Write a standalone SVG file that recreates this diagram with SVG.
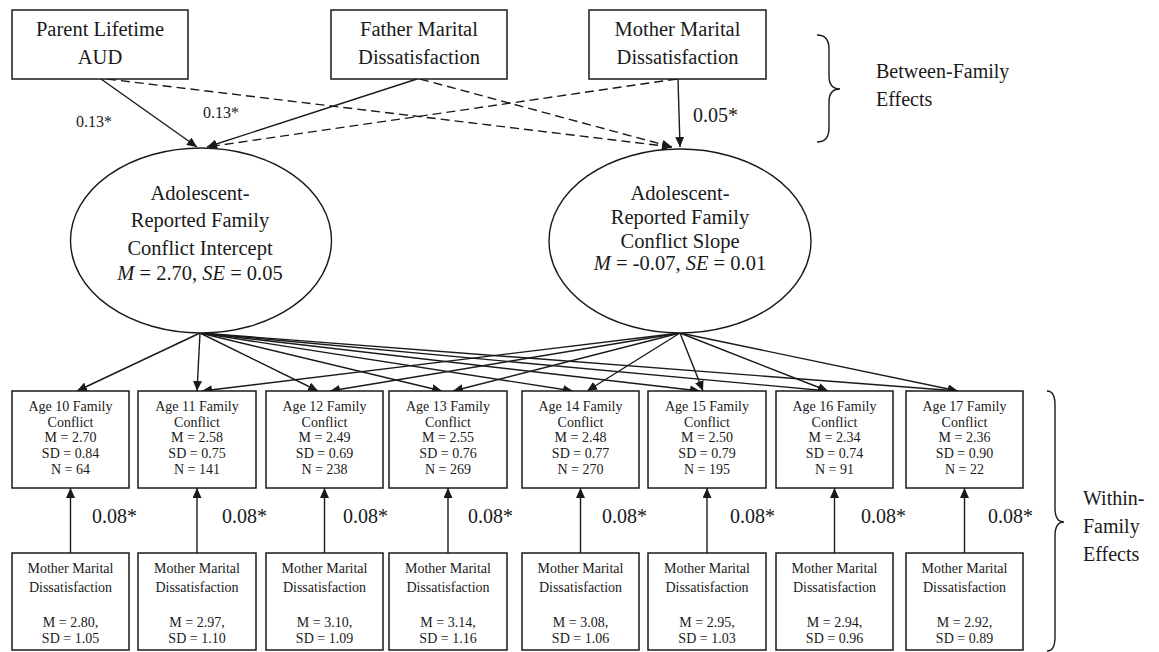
<svg xmlns="http://www.w3.org/2000/svg" width="1159" height="652" viewBox="0 0 1159 652">
<style>
text{font-family:"Liberation Serif","Times New Roman",serif;fill:#1a1a1a;text-anchor:middle}
.big{font-size:20.5px}
.sm{font-size:14px}
.lbl{font-size:20px;text-anchor:start}
.lbs{font-size:16px;text-anchor:start}
.side{font-size:20px;text-anchor:start}
.box{fill:#fff;stroke:#1a1a1a;stroke-width:1.5}
.el{fill:#fff;stroke:#1a1a1a;stroke-width:1.4}
.ln{fill:none;stroke:#1a1a1a;stroke-width:1.4;marker-end:url(#ah)}
.ds{fill:none;stroke:#1a1a1a;stroke-width:1.4;stroke-dasharray:9,5;marker-end:url(#ah)}
.br{fill:none;stroke:#1a1a1a;stroke-width:1.4}
</style>
<defs>
<marker id="ah" viewBox="0 0 10 9" refX="10" refY="4.5" markerWidth="10" markerHeight="9" markerUnits="userSpaceOnUse" orient="auto">
<path d="M0,0 L10,4.5 L0,9 z" fill="#1a1a1a" stroke="none"/>
</marker>
</defs>
<rect width="1159" height="652" fill="#fff"/>

<g id="connectors">
<line class="ln" x1="101" y1="79" x2="197" y2="147"/>
<line class="ds" x1="107" y1="79" x2="672" y2="147"/>
<line class="ln" x1="417" y1="79" x2="207" y2="147"/>
<line class="ds" x1="420" y1="79" x2="672" y2="147"/>
<line class="ds" x1="677" y1="79" x2="207" y2="147"/>
<line class="ln" x1="678" y1="79" x2="680" y2="147"/>

<line class="ln" x1="200" y1="333" x2="77" y2="391"/>
<line class="ln" x1="200" y1="333" x2="197" y2="391"/>
<line class="ln" x1="200" y1="333" x2="318" y2="391"/>
<line class="ln" x1="200" y1="333" x2="442" y2="391"/>
<line class="ln" x1="200" y1="333" x2="573" y2="391"/>
<line class="ln" x1="200" y1="333" x2="700" y2="391"/>
<line class="ln" x1="200" y1="333" x2="828" y2="391"/>
<line class="ln" x1="200" y1="333" x2="958" y2="391"/>

<line class="ln" x1="680" y1="333" x2="202" y2="391"/>
<line class="ln" x1="680" y1="333" x2="330" y2="391"/>
<line class="ln" x1="680" y1="333" x2="453" y2="391"/>
<line class="ln" x1="680" y1="333" x2="587" y2="391"/>
<line class="ln" x1="680" y1="333" x2="703" y2="391"/>
<line class="ln" x1="680" y1="333" x2="828" y2="391"/>
<line class="ln" x1="680" y1="333" x2="958" y2="391"/>

<line class="ln" x1="70.5" y1="553" x2="70.5" y2="488"/>
<line class="ln" x1="197" y1="553" x2="197" y2="488"/>
<line class="ln" x1="324.5" y1="553" x2="324.5" y2="488"/>
<line class="ln" x1="448" y1="553" x2="448" y2="488"/>
<line class="ln" x1="580.5" y1="553" x2="580.5" y2="488"/>
<line class="ln" x1="707" y1="553" x2="707" y2="488"/>
<line class="ln" x1="834.5" y1="553" x2="834.5" y2="488"/>
<line class="ln" x1="964.5" y1="553" x2="964.5" y2="488"/>

<text class="lbs" x="76" y="127">0.13*</text>
<text class="lbs" x="203" y="118">0.13*</text>
<text class="lbl" x="693" y="122">0.05*</text>
<text class="lbl" x="92" y="523">0.08*</text>
<text class="lbl" x="222" y="523">0.08*</text>
<text class="lbl" x="343" y="523">0.08*</text>
<text class="lbl" x="468" y="523">0.08*</text>
<text class="lbl" x="602" y="523">0.08*</text>
<text class="lbl" x="730" y="523">0.08*</text>
<text class="lbl" x="861" y="523">0.08*</text>
<text class="lbl" x="988" y="523">0.08*</text>
</g>

<g id="parent-aud"><rect class="box" x="12" y="10" width="176" height="69"/>
<text class="big" x="100" y="36">Parent Lifetime</text><text class="big" x="100" y="64">AUD</text></g>
<g id="father-md"><rect class="box" x="331" y="10" width="176" height="69"/>
<text class="big" x="419" y="36">Father Marital</text><text class="big" x="419" y="64">Dissatisfaction</text></g>
<g id="mother-md"><rect class="box" x="589" y="10" width="177" height="69"/>
<text class="big" x="677.5" y="36">Mother Marital</text><text class="big" x="677.5" y="64">Dissatisfaction</text></g>

<g id="between-label">
<path class="br" d="M817,35 Q829,35 829,49 L829,76 Q829,89 840,89 Q829,89 829,102 L829,128 Q829,142 817,142"/>
<text class="side" x="876" y="78">Between-Family</text>
<text class="side" x="876" y="106">Effects</text>
</g>

<g id="intercept"><ellipse class="el" cx="201" cy="240.5" rx="130.5" ry="92.5"/>
<text class="big" x="200" y="200">Adolescent-</text>
<text class="big" x="200" y="227">Reported Family</text>
<text class="big" x="200" y="255">Conflict Intercept</text>
<text class="big" x="200" y="280"><tspan font-style="italic">M</tspan> = 2.70, <tspan font-style="italic">SE</tspan> = 0.05</text></g>

<g id="slope"><ellipse class="el" cx="680" cy="241" rx="131" ry="92"/>
<text class="big" x="680" y="200">Adolescent-</text>
<text class="big" x="680" y="224">Reported Family</text>
<text class="big" x="680" y="248">Conflict Slope</text>
<text class="big" x="680" y="270"><tspan font-style="italic">M</tspan> = -0.07, <tspan font-style="italic">SE</tspan> = 0.01</text></g>

<g id="fc10"><rect class="box" x="12" y="391" width="117" height="97"/>
<text class="sm" x="70.5" y="411">Age 10 Family</text><text class="sm" x="70.5" y="427">Conflict</text><text class="sm" x="70.5" y="442">M = 2.70</text><text class="sm" x="70.5" y="458">SD = 0.84</text><text class="sm" x="70.5" y="474">N = 64</text></g>
<g id="fc11"><rect class="box" x="138" y="391" width="118" height="97"/>
<text class="sm" x="197" y="411">Age 11 Family</text><text class="sm" x="197" y="427">Conflict</text><text class="sm" x="197" y="442">M = 2.58</text><text class="sm" x="197" y="458">SD = 0.75</text><text class="sm" x="197" y="474">N = 141</text></g>
<g id="fc12"><rect class="box" x="266" y="391" width="117" height="97"/>
<text class="sm" x="324.5" y="411">Age 12 Family</text><text class="sm" x="324.5" y="427">Conflict</text><text class="sm" x="324.5" y="442">M = 2.49</text><text class="sm" x="324.5" y="458">SD = 0.69</text><text class="sm" x="324.5" y="474">N = 238</text></g>
<g id="fc13"><rect class="box" x="389" y="391" width="118" height="97"/>
<text class="sm" x="448" y="411">Age 13 Family</text><text class="sm" x="448" y="427">Conflict</text><text class="sm" x="448" y="442">M = 2.55</text><text class="sm" x="448" y="458">SD = 0.76</text><text class="sm" x="448" y="474">N = 269</text></g>
<g id="fc14"><rect class="box" x="522" y="391" width="117" height="97"/>
<text class="sm" x="580.5" y="411">Age 14 Family</text><text class="sm" x="580.5" y="427">Conflict</text><text class="sm" x="580.5" y="442">M = 2.48</text><text class="sm" x="580.5" y="458">SD = 0.77</text><text class="sm" x="580.5" y="474">N = 270</text></g>
<g id="fc15"><rect class="box" x="648" y="391" width="118" height="97"/>
<text class="sm" x="707" y="411">Age 15 Family</text><text class="sm" x="707" y="427">Conflict</text><text class="sm" x="707" y="442">M = 2.50</text><text class="sm" x="707" y="458">SD = 0.79</text><text class="sm" x="707" y="474">N = 195</text></g>
<g id="fc16"><rect class="box" x="776" y="391" width="117" height="97"/>
<text class="sm" x="834.5" y="411">Age 16 Family</text><text class="sm" x="834.5" y="427">Conflict</text><text class="sm" x="834.5" y="442">M = 2.34</text><text class="sm" x="834.5" y="458">SD = 0.74</text><text class="sm" x="834.5" y="474">N = 91</text></g>
<g id="fc17"><rect class="box" x="906" y="391" width="117" height="97"/>
<text class="sm" x="964.5" y="411">Age 17 Family</text><text class="sm" x="964.5" y="427">Conflict</text><text class="sm" x="964.5" y="442">M = 2.36</text><text class="sm" x="964.5" y="458">SD = 0.90</text><text class="sm" x="964.5" y="474">N = 22</text></g>

<g id="mm10"><rect class="box" x="12" y="553" width="117" height="97"/>
<text class="sm" x="70.5" y="573">Mother Marital</text><text class="sm" x="70.5" y="592">Dissatisfaction</text><text class="sm" x="70.5" y="627">M = 2.80,</text><text class="sm" x="70.5" y="643">SD = 1.05</text></g>
<g id="mm11"><rect class="box" x="138" y="553" width="118" height="97"/>
<text class="sm" x="197" y="573">Mother Marital</text><text class="sm" x="197" y="592">Dissatisfaction</text><text class="sm" x="197" y="627">M = 2.97,</text><text class="sm" x="197" y="643">SD = 1.10</text></g>
<g id="mm12"><rect class="box" x="266" y="553" width="117" height="97"/>
<text class="sm" x="324.5" y="573">Mother Marital</text><text class="sm" x="324.5" y="592">Dissatisfaction</text><text class="sm" x="324.5" y="627">M = 3.10,</text><text class="sm" x="324.5" y="643">SD = 1.09</text></g>
<g id="mm13"><rect class="box" x="389" y="553" width="118" height="97"/>
<text class="sm" x="448" y="573">Mother Marital</text><text class="sm" x="448" y="592">Dissatisfaction</text><text class="sm" x="448" y="627">M = 3.14,</text><text class="sm" x="448" y="643">SD = 1.16</text></g>
<g id="mm14"><rect class="box" x="522" y="553" width="117" height="97"/>
<text class="sm" x="580.5" y="573">Mother Marital</text><text class="sm" x="580.5" y="592">Dissatisfaction</text><text class="sm" x="580.5" y="627">M = 3.08,</text><text class="sm" x="580.5" y="643">SD = 1.06</text></g>
<g id="mm15"><rect class="box" x="648" y="553" width="118" height="97"/>
<text class="sm" x="707" y="573">Mother Marital</text><text class="sm" x="707" y="592">Dissatisfaction</text><text class="sm" x="707" y="627">M = 2.95,</text><text class="sm" x="707" y="643">SD = 1.03</text></g>
<g id="mm16"><rect class="box" x="776" y="553" width="117" height="97"/>
<text class="sm" x="834.5" y="573">Mother Marital</text><text class="sm" x="834.5" y="592">Dissatisfaction</text><text class="sm" x="834.5" y="627">M = 2.94,</text><text class="sm" x="834.5" y="643">SD = 0.96</text></g>
<g id="mm17"><rect class="box" x="906" y="553" width="117" height="97"/>
<text class="sm" x="964.5" y="573">Mother Marital</text><text class="sm" x="964.5" y="592">Dissatisfaction</text><text class="sm" x="964.5" y="627">M = 2.92,</text><text class="sm" x="964.5" y="643">SD = 0.89</text></g>

<g id="within-label">
<path class="br" d="M1047,391 Q1055,391 1055,405 L1055,508 Q1055,522 1064,522 Q1055,522 1055,536 L1055,637 Q1055,651 1047,651"/>
<text class="side" x="1083" y="505">Within-</text>
<text class="side" x="1083" y="533">Family</text>
<text class="side" x="1083" y="561">Effects</text>
</g>
</svg>
